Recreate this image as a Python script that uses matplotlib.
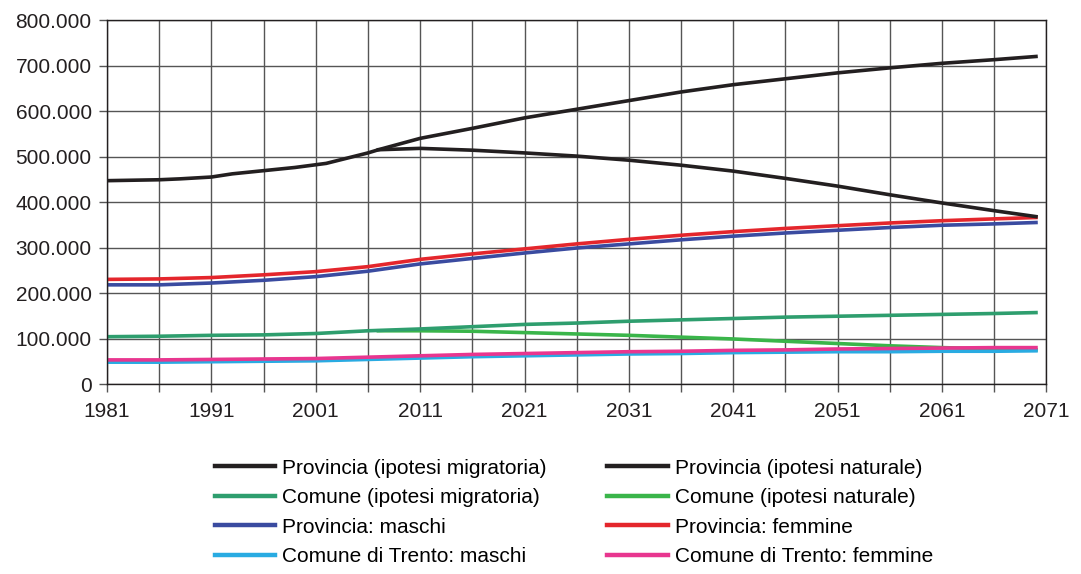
import numpy as np
import matplotlib.pyplot as plt
from matplotlib.ticker import FuncFormatter, MultipleLocator

plt.rcParams['font.family'] = ['Liberation Sans', 'DejaVu Sans']

# Data (thousands of inhabitants)
yrs_prov_migr = [1981, 1986, 1988, 1991, 1993, 1996, 1999, 2001, 2002, 2006, 2007,
                 2011, 2016, 2021, 2026, 2031, 2036, 2041, 2046, 2051, 2056, 2061, 2066, 2070]
prov_migr = [447, 449, 451, 455, 462, 469, 476, 482, 485, 508, 515,
             540, 562, 585, 604, 623, 642, 658, 671, 684, 695, 705, 713, 720]

yrs_nat = [2007, 2011, 2016, 2021, 2026, 2031, 2036, 2041, 2046, 2051, 2056, 2061, 2066, 2070]
prov_nat = [515, 518, 514, 508, 501, 492, 481, 468, 452, 435, 416, 398, 381, 368]
com_nat = [117, 117, 116, 113, 110, 107, 103, 99, 94, 89, 84, 80, 77, 75]

yrs = [1981, 1986, 1991, 1996, 2001, 2006, 2011, 2016, 2021, 2026, 2031, 2036,
       2041, 2046, 2051, 2056, 2061, 2066, 2070]
prov_f = [230, 231, 234, 240, 247, 258, 274, 286, 297, 308, 318, 327,
          335, 342, 348, 354, 359, 363, 366]
prov_m = [218, 218, 222, 228, 236, 248, 264, 276, 288, 299, 308, 317,
          325, 332, 338, 344, 349, 352, 355]
com_migr = [104, 105, 107, 108, 111, 117, 121, 126, 131, 134, 138, 141,
            144, 147, 149, 151, 153, 155, 157]
com_f = [53, 53, 54, 55, 56, 59, 62, 65, 67, 69, 71, 72,
         74, 75, 77, 78, 79, 80, 80]
com_m = [48, 48, 49, 50, 51, 54, 57, 60, 62, 64, 66, 67,
         69, 70, 71, 71, 72, 72, 73]

BLACK = '#231f20'
TEAL = '#2e9e6e'
GREEN = '#3ab54a'
BLUE = '#3a4ba0'
RED = '#e4262c'
CYAN = '#29abe2'
PINK = '#e8368f'

fig = plt.figure(figsize=(10.81, 5.74), dpi=100)
ax = fig.add_axes([0.099, 0.331, 0.869, 0.634])

lw = 2.6
k = lambda v: np.array(v) * 1000
h_cnat, = ax.plot(yrs_nat, k(com_nat), color=GREEN, lw=lw)
h_cmig, = ax.plot(yrs, k(com_migr), color=TEAL, lw=lw)
h_cm, = ax.plot(yrs, k(com_m), color=CYAN, lw=lw)
h_cf, = ax.plot(yrs, k(com_f), color=PINK, lw=lw)
h_pm, = ax.plot(yrs, k(prov_m), color=BLUE, lw=lw)
h_pf, = ax.plot(yrs, k(prov_f), color=RED, lw=lw)
h_pnat, = ax.plot(yrs_nat, k(prov_nat), color=BLACK, lw=lw)
h_pmig, = ax.plot(yrs_prov_migr, k(prov_migr), color=BLACK, lw=lw)

ax.set_xlim(1981, 2071)
ax.set_ylim(0, 800000)
ax.set_xticks(range(1981, 2072, 10))
ax.xaxis.set_minor_locator(MultipleLocator(5, offset=1))
ax.yaxis.set_major_locator(MultipleLocator(100000))
ax.yaxis.set_major_formatter(FuncFormatter(lambda v, p: f'{int(v):,}'.replace(',', '.')))
ax.grid(True, which='both', color='#555555', lw=1)
ax.set_axisbelow(True)
ax.tick_params(axis='both', which='both', direction='out', length=6, width=1,
               color='#555555', labelsize=15, colors='#231f20')
ax.tick_params(axis='x', pad=7)
ax.tick_params(axis='y', pad=5)
for s in ax.spines.values():
    s.set_color('#231f20')
    s.set_linewidth(1)

handles = [h_pmig, h_cmig, h_pm, h_cm, h_pnat, h_cnat, h_pf, h_cf]
labels = ['Provincia (ipotesi migratoria)', 'Comune (ipotesi migratoria)',
          'Provincia: maschi', 'Comune di Trento: maschi',
          'Provincia (ipotesi naturale)', 'Comune (ipotesi naturale)',
          'Provincia: femmine', 'Comune di Trento: femmine']
leg = fig.legend(handles, labels, ncol=2, loc='upper left', bbox_to_anchor=(0.189, 0.219),
                 frameon=False, fontsize=15, handlelength=2.9, handletextpad=0.35,
                 columnspacing=2.9, labelspacing=0.5, borderpad=0)
for line in leg.get_lines():
    line.set_linewidth(3.2)

fig.savefig('out.png', dpi=100)
